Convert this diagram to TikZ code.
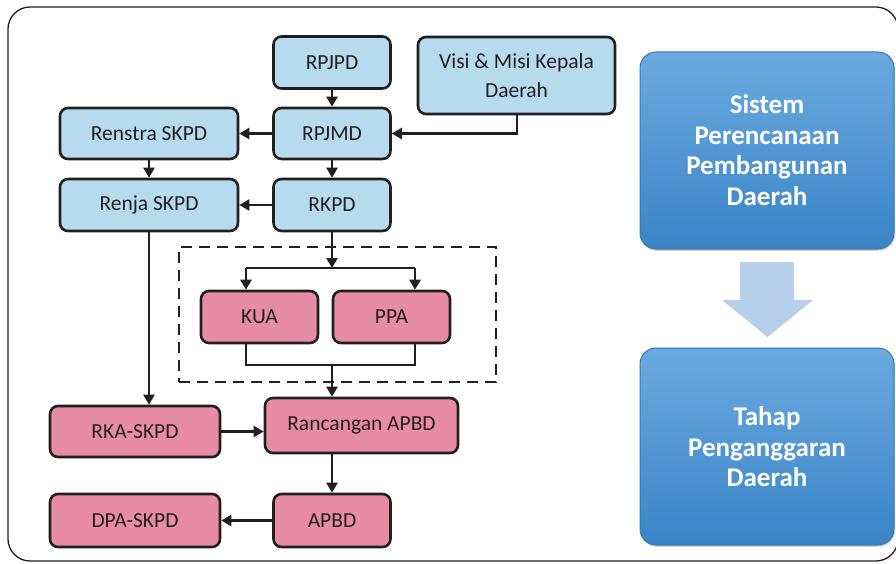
\documentclass[tikz,border=0pt]{standalone}
\usepackage{fontspec}
\setmainfont{Carlito}
\usetikzlibrary{arrows.meta,shadows}
\definecolor{lblue}{HTML}{B7DBEE}
\definecolor{lpink}{HTML}{E88BA6}
\definecolor{ink}{HTML}{231F20}
\definecolor{bigblue}{HTML}{4A93D2}
\definecolor{bigblueTop}{HTML}{6AAAE0}
\definecolor{bigblueBot}{HTML}{3A84C6}
\definecolor{arrowblue}{HTML}{B6CFEA}
\tikzset{
  box/.style={draw=ink, line width=2.6pt, rounded corners=8pt, align=center,
    inner sep=0pt, font=\fontsize{21.5}{29}\selectfont, text=ink},
  bluebox/.style={box, fill=lblue},
  pinkbox/.style={box, fill=lpink},
  conn/.style={draw=ink, line width=2.4pt},
  arr/.style={conn, -{Triangle[length=10pt,width=11pt]}},
  bigbox/.style={rounded corners=16pt, draw=bigblue!80!black, line width=1pt,
    top color=bigblueTop, bottom color=bigblueBot, inner sep=0pt,
    drop shadow={shadow xshift=1pt, shadow yshift=-2pt, opacity=0.3}},
  bigtext/.style={text=white, align=center, font=\bfseries\fontsize{27}{30.5}\selectfont},
}
\begin{document}
\begin{tikzpicture}[x=1pt,y=-1pt]
\useasboundingbox (0,0) rectangle (896,564);
% outer frame
\draw[line width=1.3pt, ink, rounded corners=22pt] (8,7) rectangle (898,561);

% planning nodes
\node[bluebox, minimum width=117pt, minimum height=52pt] (rpjpd) at (332,62.5) {RPJPD};
\node[bluebox, minimum width=197pt, minimum height=77pt] (visi) at (516.5,75.5) {Visi \& Misi Kepala\\Daerah};
\node[bluebox, minimum width=117pt, minimum height=51pt] (rpjmd) at (332,133.5) {RPJMD};
\node[bluebox, minimum width=178pt, minimum height=51pt] (renstra) at (149,133.5) {Renstra SKPD};
\node[bluebox, minimum width=178pt, minimum height=52pt] (renja) at (149,205) {Renja SKPD};
\node[bluebox, minimum width=117pt, minimum height=52pt] (rkpd) at (332,205) {RKPD};

% budgeting nodes
\node[pinkbox, minimum width=117pt, minimum height=52pt] (kua) at (259.5,317) {KUA};
\node[pinkbox, minimum width=117pt, minimum height=52pt] (ppa) at (391.5,317) {PPA};
\node[pinkbox, minimum width=193pt, minimum height=55pt] (rapbd) at (361.5,425.5) {Rancangan APBD};
\node[pinkbox, minimum width=170pt, minimum height=51pt] (rka) at (135,431.5) {RKA-SKPD};
\node[pinkbox, minimum width=117pt, minimum height=53pt] (apbd) at (332,520.5) {APBD};
\node[pinkbox, minimum width=170pt, minimum height=53pt] (dpa) at (135,520.5) {DPA-SKPD};

% dashed group
\node[draw=ink, dashed, dash pattern=on 11pt off 7pt, line width=2.4pt,
  minimum width=317pt, minimum height=135pt, inner sep=0pt] (grp) at (337.5,314.5) {};

% connectors
\draw[arr] (rpjpd) -- (rpjmd);
\draw[arr] (rpjmd) -- (renstra);
\draw[arr] (renstra) -- (renja);
\draw[arr] (rpjmd) -- (rkpd);
\draw[arr] (rkpd) -- (renja);
\coordinate (vturn) at (517,133.5);
\draw[arr] (visi.south -| vturn) -- (vturn) -- (rpjmd.east);

\coordinate (split) at (332,268);
\coordinate (splitL) at (246,268);
\coordinate (splitR) at (415,268);
\draw[arr] (rkpd.south) -- (split);
\draw[conn] (splitL) -- (splitR);
\draw[arr] (splitL) -- (splitL |- kua.north);
\draw[arr] (splitR) -- (splitR |- ppa.north);

\coordinate (joinL) at (246,365);
\coordinate (joinR) at (415,365);
\coordinate (join) at (332,365);
\draw[conn] (joinL |- kua.south) -- (joinL) -- (joinR) -- (joinR |- ppa.south);
\draw[arr] (join) -- (join |- rapbd.north);

\draw[arr] (renja.south) -- (renja.south |- rka.north);
\draw[arr] (rka.east) -- (rka.east -| rapbd.west);
\draw[arr] (apbd.north |- rapbd.south) -- (apbd.north);
\draw[arr] (apbd.west) -- (dpa.east);

% right side
\node[bigbox, minimum width=254pt, minimum height=197pt] (spp) at (767,150.5) {};
\node[bigtext] (spptxt) at (767,150) {Sistem\\Perencanaan\\Pembangunan\\Daerah};
\node[bigbox, minimum width=254pt, minimum height=197pt] (tpd) at (767,446.5) {};
\node[bigtext] (tpdtxt) at (767,447) {Tahap\\Penganggaran\\Daerah};
\fill[arrowblue] (740,262) -- (794,262) -- (794,300) -- (813,300) -- (767.5,337) -- (722,300) -- (740,300) -- cycle;
\end{tikzpicture}
\end{document}
